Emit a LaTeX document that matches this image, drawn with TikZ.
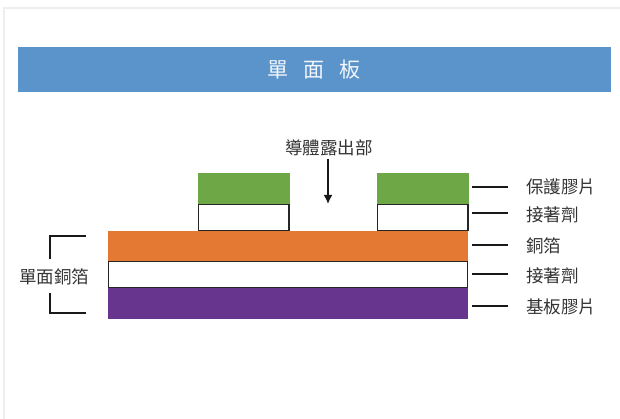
\documentclass[tikz,border=0pt]{standalone}
\usepackage{fontspec}
\usetikzlibrary{arrows.meta}
\newfontfamily\cjk{Noto Sans CJK TC}
\definecolor{banner}{HTML}{5A94CB}
\definecolor{cgreen}{HTML}{6EA746}
\definecolor{corange}{HTML}{E37933}
\definecolor{cpurple}{HTML}{67358E}
\definecolor{ctext}{HTML}{333333}
\definecolor{cframe}{HTML}{EEEEEE}
\begin{document}
\begin{tikzpicture}[x=1pt,y=-1pt,
  whitebox/.style={draw=black!85,line width=1.2pt,fill=white,inner sep=0pt},
  lbl/.style={font=\cjk\fontsize{17.5}{19}\selectfont,text=ctext,anchor=west,inner sep=0pt},
  tick/.style={draw=black!90,line width=2.2pt},
  brk/.style={draw=black!90,line width=2.2pt}]
\useasboundingbox (0,0) rectangle (620,419);
\fill[white] (0,0) rectangle (620,419);
\draw[cframe,line width=2.5pt] (4,419) -- (4,8) -- (620,8);
% banner
\fill[banner] (18,47) rectangle (611,92);
\node[font=\cjk\fontsize{21}{23}\selectfont,text=white!92!banner,inner sep=0pt] (title) at (314,70) {單\hspace{0.72em}面\hspace{0.72em}板};
% layers
\fill[cgreen] (198,173) rectangle (290,204);
\fill[cgreen] (377,173) rectangle (469,204);
\draw[whitebox] (198.6,204.6) rectangle (289,230.4);
\draw[whitebox] (377.6,204.6) rectangle (468,230.4);
\fill[corange] (108,231) rectangle (468,261);
\draw[whitebox] (108.6,261.6) rectangle (467.4,287.6);
\fill[cpurple] (108,288) rectangle (468,319);
% named anchors for connectors
\coordinate (g1) at (472,186.7);
\coordinate (g2) at (508,186.7);
\coordinate (a1) at (472,213);
\coordinate (a2) at (508,213);
\coordinate (c1) at (472,245);
\coordinate (c2) at (508,245);
\coordinate (b1) at (472,274);
\coordinate (b2) at (508,274);
\coordinate (p1) at (472,306);
\coordinate (p2) at (508,306);
\draw[tick] (g1) -- (g2);
\draw[tick] (a1) -- (a2);
\draw[tick] (c1) -- (c2);
\draw[tick] (b1) -- (b2);
\draw[tick] (p1) -- (p2);
\node[lbl] (lg) at (526,187) {保護膠片};
\node[lbl] (la) at (526,215) {接著劑};
\node[lbl] (lc) at (526,246) {銅箔};
\node[lbl] (lb) at (526,276) {接著劑};
\node[lbl] (lp) at (526,307) {基板膠片};
% top label and arrow
\node[font=\cjk\fontsize{17.5}{19}\selectfont,text=ctext,inner sep=0pt] (expo) at (329,148) {導體露出部};
\coordinate (arrStart) at (328,159);
\coordinate (arrEnd) at (328,204);
\draw[line width=2pt,-{Latex[length=9pt,width=9pt]},black!90] (arrStart) -- (arrEnd);
% bracket
\draw[brk] (86,236) -- (50,236) -- (50,259);
\draw[brk] (50,293) -- (50,312.7) -- (86,312.7);
\node[font=\cjk\fontsize{17.5}{19}\selectfont,text=ctext,inner sep=0pt] (side) at (54,277) {單面銅箔};
\end{tikzpicture}
\end{document}
